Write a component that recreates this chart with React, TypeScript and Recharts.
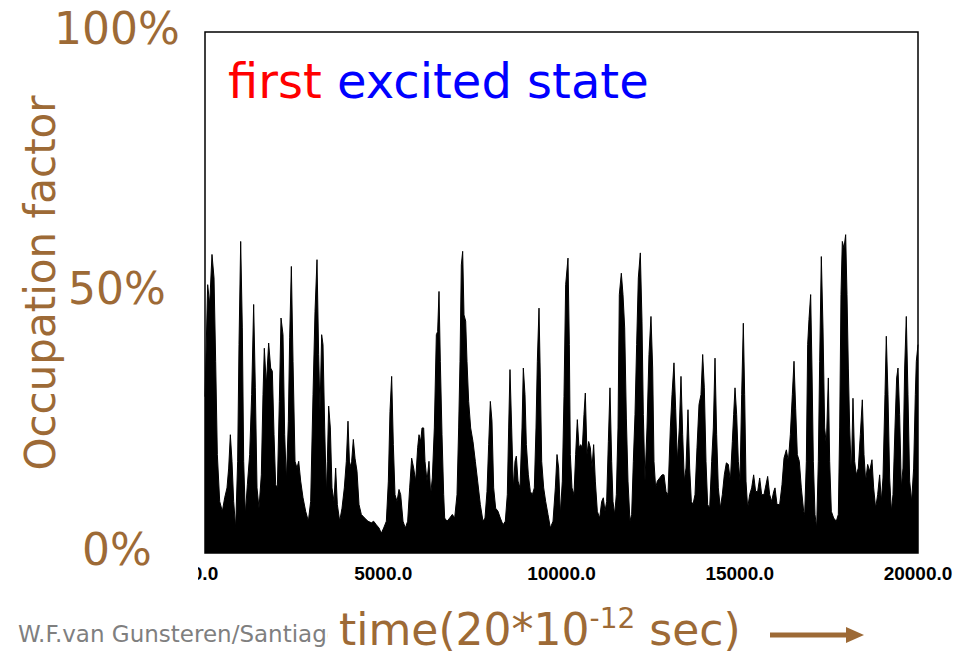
import React from 'react';
import { AreaChart, Area, XAxis, YAxis, ReferenceArea } from 'recharts';

const timeSteps = [
  0, 75, 131, 196, 253, 299, 346, 412, 486, 552, 617, 664, 711, 757, 804, 860, 916, 954, 1001, 1047,
  1085, 1131, 1188, 1253, 1309, 1365, 1412, 1459, 1515, 1580, 1627, 1664, 1720, 1786, 1842, 1889, 1936, 1982, 2029, 2085,
  2132, 2188, 2235, 2282, 2338, 2375, 2422, 2469, 2525, 2581, 2628, 2684, 2749, 2824, 2899, 2964, 3030, 3086, 3142, 3188,
  3226, 3272, 3310, 3357, 3404, 3432, 3469, 3516, 3562, 3619, 3665, 3712, 3778, 3843, 3908, 3964, 4011, 4058, 4114, 4161,
  4208, 4264, 4320, 4385, 4479, 4572, 4666, 4731, 4806, 4881, 4946, 5012, 5087, 5143, 5189, 5236, 5283, 5330, 5386, 5442,
  5489, 5554, 5619, 5685, 5741, 5797, 5853, 5909, 5965, 6003, 6050, 6087, 6134, 6171, 6227, 6283, 6330, 6377, 6433, 6489,
  6526, 6564, 6601, 6648, 6695, 6723, 6788, 6863, 6938, 7003, 7069, 7115, 7153, 7190, 7228, 7265, 7312, 7349, 7396, 7452,
  7517, 7583, 7648, 7723, 7798, 7854, 7910, 7957, 8004, 8050, 8097, 8153, 8219, 8284, 8359, 8424, 8480, 8518, 8555, 8602,
  8649, 8696, 8733, 8780, 8836, 8892, 8929, 8976, 9014, 9070, 9126, 9182, 9238, 9285, 9322, 9369, 9406, 9444, 9500, 9556,
  9621, 9687, 9762, 9827, 9874, 9920, 9967, 10023, 10070, 10117, 10182, 10220, 10248, 10294, 10351, 10397, 10444, 10491, 10538, 10584,
  10631, 10668, 10715, 10762, 10809, 10855, 10902, 10949, 11005, 11071, 11127, 11173, 11220, 11267, 11314, 11360, 11407, 11444, 11491, 11538,
  11585, 11622, 11678, 11725, 11772, 11819, 11865, 11921, 11968, 12015, 12062, 12108, 12155, 12211, 12258, 12295, 12342, 12398, 12454, 12510,
  12557, 12594, 12641, 12688, 12754, 12819, 12875, 12931, 12987, 13053, 13100, 13155, 13202, 13249, 13305, 13352, 13399, 13445, 13492, 13548,
  13595, 13642, 13689, 13745, 13801, 13857, 13913, 13960, 14006, 14053, 14100, 14156, 14212, 14259, 14306, 14352, 14399, 14455, 14511, 14567,
  14624, 14680, 14736, 14792, 14829, 14867, 14913, 14960, 15007, 15054, 15100, 15138, 15175, 15222, 15278, 15334, 15390, 15446, 15502, 15559,
  15615, 15680, 15736, 15783, 15839, 15895, 15952, 15989, 16045, 16120, 16185, 16241, 16307, 16363, 16419, 16475, 16522, 16568, 16615, 16671,
  16727, 16793, 16821, 16868, 16905, 16942, 16989, 17026, 17064, 17111, 17157, 17204, 17242, 17288, 17335, 17382, 17429, 17485, 17522, 17569,
  17634, 17709, 17765, 17803, 17840, 17877, 17924, 17971, 18008, 18046, 18083, 18130, 18176, 18223, 18270, 18326, 18382, 18438, 18485, 18532,
  18588, 18644, 18709, 18756, 18812, 18868, 18924, 18971, 19018, 19074, 19111, 19158, 19205, 19252, 19298, 19354, 19401, 19439, 19485, 19532,
  19579, 19626, 19672, 19719, 19766, 19822, 19878, 19925, 19953, 20000,
];

const occupation = [
  0.30, 0.515, 0.477, 0.573, 0.528, 0.368, 0.189, 0.099, 0.080, 0.106, 0.125, 0.163, 0.227, 0.176, 0.099, 0.048, 0.176, 0.40, 0.598, 0.432,
  0.176, 0.074, 0.131, 0.189, 0.304, 0.477, 0.317, 0.125, 0.086, 0.150, 0.304, 0.393, 0.323, 0.403, 0.355, 0.349, 0.227, 0.131, 0.125, 0.291,
  0.451, 0.419, 0.227, 0.138, 0.253, 0.413, 0.550, 0.368, 0.176, 0.163, 0.176, 0.138, 0.106, 0.080, 0.061, 0.099, 0.304, 0.464, 0.563, 0.381,
  0.272, 0.419, 0.40, 0.24, 0.112, 0.176, 0.282, 0.24, 0.125, 0.099, 0.163, 0.093, 0.061, 0.086, 0.125, 0.176, 0.253, 0.163, 0.176, 0.218,
  0.182, 0.157, 0.093, 0.074, 0.067, 0.061, 0.058, 0.061, 0.054, 0.048, 0.038, 0.048, 0.061, 0.138, 0.272, 0.339, 0.208, 0.112, 0.099, 0.122,
  0.112, 0.061, 0.048, 0.061, 0.125, 0.182, 0.163, 0.138, 0.202, 0.227, 0.214, 0.24, 0.24, 0.176, 0.138, 0.176, 0.112, 0.144, 0.24, 0.419,
  0.425, 0.502, 0.368, 0.227, 0.112, 0.067, 0.061, 0.067, 0.074, 0.067, 0.112, 0.24, 0.368, 0.553, 0.579, 0.457, 0.445, 0.368, 0.291, 0.24,
  0.214, 0.176, 0.138, 0.093, 0.061, 0.067, 0.118, 0.208, 0.291, 0.253, 0.125, 0.086, 0.080, 0.067, 0.054, 0.061, 0.112, 0.24, 0.352, 0.24,
  0.125, 0.176, 0.186, 0.138, 0.125, 0.24, 0.355, 0.304, 0.208, 0.150, 0.118, 0.112, 0.125, 0.24, 0.368, 0.470, 0.336, 0.176, 0.125, 0.099,
  0.074, 0.048, 0.061, 0.125, 0.189, 0.163, 0.074, 0.138, 0.30, 0.515, 0.566, 0.40, 0.189, 0.125, 0.112, 0.189, 0.256, 0.202, 0.208, 0.202,
  0.266, 0.307, 0.189, 0.214, 0.202, 0.163, 0.208, 0.138, 0.080, 0.067, 0.099, 0.106, 0.080, 0.099, 0.214, 0.317, 0.176, 0.099, 0.074, 0.112,
  0.24, 0.496, 0.537, 0.496, 0.432, 0.259, 0.138, 0.061, 0.074, 0.176, 0.266, 0.40, 0.528, 0.576, 0.445, 0.266, 0.138, 0.24, 0.381, 0.454,
  0.355, 0.176, 0.125, 0.138, 0.144, 0.150, 0.150, 0.118, 0.112, 0.24, 0.304, 0.365, 0.278, 0.176, 0.24, 0.339, 0.227, 0.138, 0.163, 0.275,
  0.163, 0.099, 0.093, 0.112, 0.202, 0.285, 0.304, 0.381, 0.317, 0.176, 0.093, 0.086, 0.176, 0.24, 0.374, 0.227, 0.125, 0.086, 0.112, 0.150,
  0.173, 0.170, 0.138, 0.214, 0.266, 0.317, 0.266, 0.176, 0.138, 0.304, 0.441, 0.304, 0.138, 0.086, 0.112, 0.125, 0.150, 0.118, 0.118, 0.144,
  0.112, 0.112, 0.131, 0.147, 0.112, 0.099, 0.118, 0.125, 0.093, 0.093, 0.131, 0.182, 0.198, 0.176, 0.227, 0.304, 0.368, 0.278, 0.189, 0.176,
  0.125, 0.080, 0.074, 0.176, 0.40, 0.448, 0.496, 0.355, 0.176, 0.074, 0.048, 0.176, 0.368, 0.569, 0.432, 0.24, 0.208, 0.336, 0.176, 0.080,
  0.067, 0.061, 0.074, 0.24, 0.496, 0.598, 0.585, 0.611, 0.496, 0.355, 0.24, 0.150, 0.297, 0.176, 0.150, 0.163, 0.227, 0.294, 0.189, 0.138,
  0.170, 0.157, 0.179, 0.125, 0.086, 0.112, 0.150, 0.099, 0.144, 0.304, 0.416, 0.304, 0.144, 0.080, 0.112, 0.24, 0.336, 0.355, 0.266, 0.125,
  0.163, 0.355, 0.454, 0.304, 0.138, 0.099, 0.163, 0.304, 0.368, 0.40,
];

const xTicks = [0, 5000, 10000, 15000, 20000];
const yTicks = [0, 0.5, 1];
const titleWords = ['first', 'excited state'];
const yAxisTitle = 'Occupation factor';
const xAxisTitle = ['time(20*10', '-12', ' sec)'];
const footer = 'W.F.van Gunsteren/Santiago';

const data = timeSteps.map((t, i) => ({ t, occ: occupation[i] }));

const BROWN = '#9D6A36';
const SANS = '"DejaVu Sans", Verdana, sans-serif';

function XTick(props: any) {
  const { x, y, payload } = props;
  const isZero = payload.value === 0;
  return (
    <g>
      {isZero && (
        <defs>
          <clipPath id="zeroTickClip">
            <rect x={x - 7} y={y - 5} width={60} height={50} />
          </clipPath>
        </defs>
      )}
      <text
        x={x}
        y={y + 27}
        textAnchor="middle"
        fontFamily='"Liberation Sans", Arial, sans-serif'
        fontWeight="bold"
        fontSize={19}
        fill="#000"
        clipPath={isZero ? 'url(#zeroTickClip)' : undefined}
      >
        {Number(payload.value).toFixed(1)}
      </text>
    </g>
  );
}

function YTick(props: any) {
  const { x, y, payload } = props;
  return (
    <text
      x={x - 88}
      y={y - 4}
      dy="0.36em"
      textAnchor="middle"
      fontFamily={SANS}
      fontSize={44}
      fill={BROWN}
    >
      {`${Math.round(payload.value * 100)}%`}
    </text>
  );
}

export default function App() {
  return (
    <div style={{ position: 'absolute', left: 0, top: 0, width: 955, height: 653, background: '#fff' }}>
      <AreaChart width={955} height={653} data={data} margin={{ top: 32, right: 37, bottom: 0, left: 0 }}>
        <XAxis
          dataKey="t"
          type="number"
          domain={[0, 20000]}
          ticks={xTicks}
          height={100}
          axisLine={false}
          tickLine={false}
          tickSize={0}
          tickMargin={0}
          tick={<XTick />}
          interval={0}
        />
        <YAxis
          type="number"
          domain={[0, 1]}
          ticks={yTicks}
          width={205}
          axisLine={false}
          tickLine={false}
          tickSize={0}
          tickMargin={0}
          tick={<YTick />}
          interval={0}
        />
        <Area
          type="linear"
          dataKey="occ"
          stroke="#000"
          strokeWidth={1}
          fill="#000"
          fillOpacity={1}
          isAnimationActive={false}
          dot={false}
          activeDot={false}
        />
        <ReferenceArea x1={0} x2={20000} y1={0} y2={1} fill="none" stroke="#000" strokeWidth={1.5} ifOverflow="visible" />
        <text x={228} y={98} fontFamily={SANS} fontSize={48}>
          <tspan fill="#FF0000">{titleWords[0]}</tspan>
          <tspan fill="#0000FF">{' ' + titleWords[1]}</tspan>
        </text>
        <text
          x={40}
          y={283}
          transform="rotate(-90 40 283)"
          textAnchor="middle"
          dy="0.36em"
          fontFamily={SANS}
          fontSize={42}
          fill={BROWN}
        >
          {yAxisTitle}
        </text>
        <text x={339} y={645} fontFamily={SANS} fontSize={44} fill={BROWN}>
          {xAxisTitle[0]}
          <tspan fontSize={28} dy={-17}>{xAxisTitle[1]}</tspan>
          <tspan dy={17}>{xAxisTitle[2]}</tspan>
        </text>
        <defs>
          <clipPath id="footerClip">
            <rect x={0} y={600} width={328} height={53} />
          </clipPath>
        </defs>
        <text x={18} y={642} fontFamily={SANS} fontSize={23} fill="#7F7F7F" clipPath="url(#footerClip)">
          {footer}
        </text>
        <line x1={770} y1={635} x2={848} y2={635} stroke={BROWN} strokeWidth={5} />
        <polygon points="846,627 864,635 846,643" fill={BROWN} />
      </AreaChart>
    </div>
  );
}
